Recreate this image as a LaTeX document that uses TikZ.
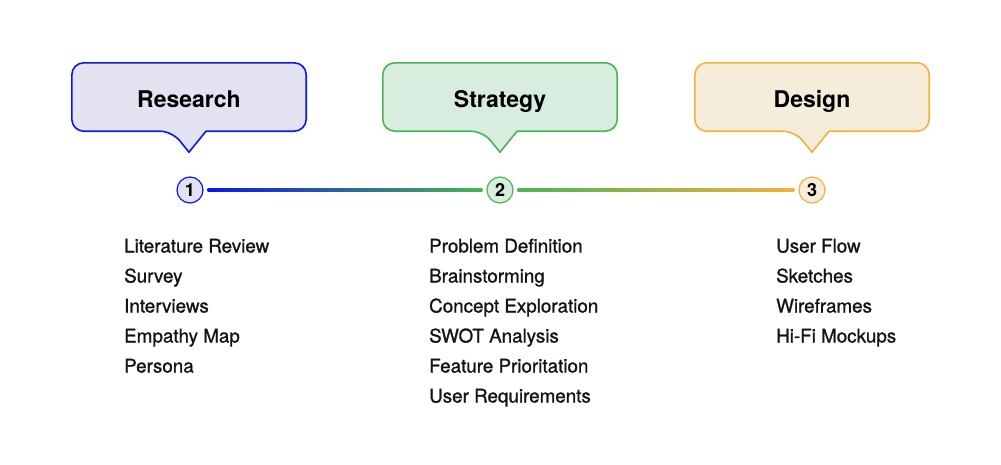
\documentclass[tikz,border=0pt]{standalone}
\usepackage{fontspec}
\setmainfont{TeX Gyre Heros}
\newfontfamily\taskfont[FakeBold=1.1]{TeX Gyre Heros}
\usetikzlibrary{positioning,backgrounds}

\definecolor{resline}{RGB}{12,24,232}
\definecolor{resfill}{RGB}{226,226,240}
\definecolor{strline}{RGB}{72,182,82}
\definecolor{strfill}{RGB}{217,236,224}
\definecolor{desline}{RGB}{246,176,60}
\definecolor{desfill}{RGB}{245,237,218}
\definecolor{txt}{RGB}{20,20,20}

\tikzset{
  phase/.style={minimum width=234pt, minimum height=68pt, inner sep=0pt,
    text height=21pt, text depth=0pt,
    font=\fontsize{23}{26}\selectfont\bfseries, text=black},
  bubble/.style={line width=1.6pt, line join=round},
  stepdot/.style={circle, minimum size=26pt, inner sep=0pt, line width=1.2pt,
    font=\fontsize{18}{20}\selectfont\bfseries, text=black},
  task/.style={anchor=base west, inner sep=0pt, text=txt,
    font=\taskfont\fontsize{18.8}{21}\selectfont},
}

\begin{document}
\begin{tikzpicture}[x=1pt, y=-1pt]
\useasboundingbox (0,0) rectangle (1001,464);

% phase headers
\node[phase] (research) at (189,97) {Research};
\node[phase] (strategy) at (500,97) {Strategy};
\node[phase] (design)   at (812,97) {Design};

% speech bubbles behind the headers
\begin{scope}[on background layer]
\foreach \p/\c in {research/res, strategy/str, design/des}
  \draw[bubble, draw=\c line, fill=\c fill]
    ([yshift=-21pt]\p.south) -- ([xshift=17pt]\p.south)
    [rounded corners=12pt] -- (\p.south east) -- (\p.north east)
    -- (\p.north west) -- (\p.south west) -- ([xshift=-17pt]\p.south)
    [sharp corners] -- cycle;
\end{scope}

% numbered steps
\node[stepdot, draw=resline, fill=resfill] (s1) at (190,190) {1};
\node[stepdot, draw=strline, fill=strfill] (s2) at (500,190) {2};
\node[stepdot, draw=desline, fill=desfill] (s3) at (812,190) {3};

% timeline
\shade[left color=resline, middle color=resline!55!strline, right color=strline]
  ([xshift=4pt, yshift=-1.5pt]s1.east) rectangle ([xshift=-4pt, yshift=1.5pt]s2.west);
\shade[left color=strline, right color=desline]
  ([xshift=4pt, yshift=-1.5pt]s2.east) rectangle ([xshift=-4pt, yshift=1.5pt]s3.west);

% task lists
\foreach \t [count=\i] in {Literature Review, Survey, Interviews, Empathy Map, Persona}
  \node[task] (r\i) at (124, 222.5+30*\i) {\t};
\foreach \t [count=\i] in {Problem Definition, Brainstorming, Concept Exploration,
    SWOT Analysis, Feature Prioritation, User Requirements}
  \node[task] (g\i) at (429, 222.5+30*\i) {\t};
\foreach \t [count=\i] in {User Flow, Sketches, Wireframes, Hi-Fi Mockups}
  \node[task] (d\i) at (776, 222.5+30*\i) {\t};
\end{tikzpicture}
\end{document}
